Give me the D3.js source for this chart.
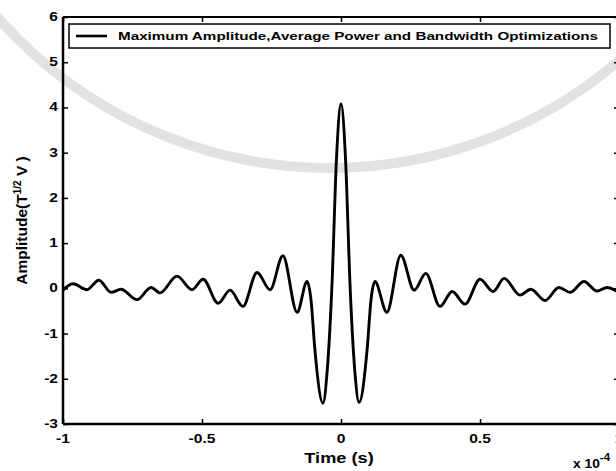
<!DOCTYPE html>
<html>
<head>
<meta charset="utf-8">
<script src="https://cdn.jsdelivr.net/npm/d3@7"></script>
<style>
  body { margin: 0; background: #fff; }
  svg { display: block; font-family: "Liberation Sans", Arial, sans-serif; }
</style>
</head>
<body>
<svg id="chart" width="616" height="471"></svg>
<script>
// time in units of 1e-4 s
const timeVals = [
  -1.000, -0.964, -0.914, -0.871, -0.827, -0.791, -0.734, -0.683, -0.651, -0.590,
  -0.536, -0.496, -0.442, -0.399, -0.353, -0.302, -0.255, -0.209, -0.158, -0.122,
  -0.108, -0.094, -0.065, -0.050, -0.033, -0.016, 0.000, 0.016, 0.033, 0.050,
  0.065, 0.094, 0.108, 0.122, 0.165, 0.215, 0.263, 0.305, 0.356, 0.400,
  0.446, 0.500, 0.547, 0.587, 0.644, 0.683, 0.734, 0.784, 0.824, 0.874,
  0.921, 0.957, 1.000
];
const ampVals = [
  -0.04, 0.10, -0.03, 0.18, -0.09, -0.02, -0.25, 0.02, -0.10, 0.27,
  -0.03, 0.20, -0.33, -0.04, -0.40, 0.35, -0.03, 0.72, -0.53, 0.15,
  -0.25, -1.35, -2.54, -1.85, 0.00, 2.90, 4.08, 2.90, 0.00, -1.85,
  -2.52, -1.35, -0.25, 0.15, -0.53, 0.73, -0.04, 0.33, -0.40, -0.07,
  -0.35, 0.20, -0.07, 0.22, -0.15, -0.02, -0.27, 0.02, -0.09, 0.15,
  -0.06, 0.02, -0.10
];
const xTicks = [-1, -0.5, 0, 0.5, 1];
const xTickLabels = ["-1", "-0.5", "0", "0.5", "1"];
const yTicks = [-3, -2, -1, 0, 1, 2, 3, 4, 5, 6];
const legendLabel = "Maximum Amplitude,Average Power and Bandwidth Optimizations";

const PLOT_LEFT = 63;
const PLOT_RIGHT = 619;
const PLOT_TOP = 17;
const PLOT_BOTTOM = 424;
const TICK_LEN = 5;
const STRETCH = 1.3; // the scan is wider than tall

let svg = d3.select("#chart");

let x = d3.scaleLinear().domain([-1, 1]).range([PLOT_LEFT, PLOT_RIGHT]);
let y = d3.scaleLinear().domain([-3, 6]).range([PLOT_BOTTOM, PLOT_TOP]);

// Faint watermark arc behind the plot
svg.append("circle")
  .attr("cx", 330).attr("cy", -274).attr("r", 442)
  .attr("fill", "none").attr("stroke", "#e2e2e2").attr("stroke-width", 10);

// Frame
let frame = svg.append("g").attr("stroke", "#000").attr("fill", "none");
frame.append("line").attr("x1", PLOT_LEFT).attr("x2", PLOT_RIGHT)
  .attr("y1", PLOT_TOP).attr("y2", PLOT_TOP).attr("stroke-width", 2);
frame.append("line").attr("x1", PLOT_LEFT).attr("x2", PLOT_RIGHT)
  .attr("y1", PLOT_BOTTOM).attr("y2", PLOT_BOTTOM).attr("stroke-width", 2.5);
frame.append("line").attr("x1", PLOT_LEFT).attr("x2", PLOT_LEFT)
  .attr("y1", PLOT_TOP).attr("y2", PLOT_BOTTOM).attr("stroke-width", 2.5);
frame.append("line").attr("x1", PLOT_RIGHT).attr("x2", PLOT_RIGHT)
  .attr("y1", PLOT_TOP).attr("y2", PLOT_BOTTOM).attr("stroke-width", 2);

// Axes with inward ticks
let xAxisBottom = d3.axisTop(x).tickValues(xTicks).tickSize(TICK_LEN).tickFormat("");
let xAxisTop = d3.axisBottom(x).tickValues(xTicks).tickSize(TICK_LEN).tickFormat("");
let yAxisLeft = d3.axisRight(y).tickValues(yTicks).tickSize(TICK_LEN).tickFormat("");
let yAxisRight = d3.axisLeft(y).tickValues(yTicks).tickSize(TICK_LEN).tickFormat("");

[
  [xAxisBottom, `translate(0,${PLOT_BOTTOM})`],
  [xAxisTop, `translate(0,${PLOT_TOP})`],
  [yAxisLeft, `translate(${PLOT_LEFT},0)`],
  [yAxisRight, `translate(${PLOT_RIGHT},0)`]
].forEach(([axis, tr]) => {
  let g = svg.append("g").attr("transform", tr).call(axis);
  g.select(".domain").remove();
  g.selectAll(".tick line").attr("stroke", "#000").attr("stroke-width", 1.5);
});

// Tick labels (stretched horizontally like the scan)
svg.append("g").selectAll("text").data(xTicks).join("text")
  .attr("transform", (d) => `translate(${x(d)},${PLOT_BOTTOM + 19}) scale(${STRETCH},1)`)
  .attr("text-anchor", "middle")
  .attr("font-size", 12).attr("font-weight", "bold")
  .text((d, i) => xTickLabels[i]);

svg.append("g").selectAll("text").data(yTicks).join("text")
  .attr("transform", (d) => `translate(${PLOT_LEFT - 5},${y(d) + 4}) scale(${STRETCH},1)`)
  .attr("text-anchor", "end")
  .attr("font-size", 12).attr("font-weight", "bold")
  .text((d) => `${d}`);

// Axis labels
svg.append("text")
  .attr("transform", `translate(339,463) scale(${STRETCH},1)`)
  .attr("text-anchor", "middle")
  .attr("font-size", 14).attr("font-weight", "bold")
  .text("Time (s)");

let expo = svg.append("text")
  .attr("transform", `translate(573,468) scale(1.15,1)`)
  .attr("font-size", 12).attr("font-weight", "bold");
expo.append("tspan").text("x 10");
expo.append("tspan").attr("dy", -7).attr("font-size", 10).text("-4");

let ylab = svg.append("text")
  .attr("transform", `translate(27,${(PLOT_TOP + PLOT_BOTTOM) / 2}) rotate(-90)`)
  .attr("text-anchor", "middle")
  .attr("font-size", 15.5).attr("font-weight", "bold");
ylab.append("tspan").text("Amplitude(T");
ylab.append("tspan").attr("dy", -6).attr("font-size", 10).text("1/2");
ylab.append("tspan").attr("dy", 6).text(" V )");

// Signal line
let line = d3.line()
  .x((d, i) => x(timeVals[i]))
  .y((d) => y(d))
  .curve(d3.curveMonotoneX);

svg.append("path")
  .datum(ampVals)
  .attr("fill", "none")
  .attr("stroke", "#000")
  .attr("stroke-width", 2.9)
  .attr("stroke-linejoin", "round")
  .attr("d", line);

// Legend
let legend = svg.append("g");
legend.append("rect")
  .attr("x", 69).attr("y", 24).attr("width", 541).attr("height", 24)
  .attr("fill", "#fff").attr("stroke", "#000").attr("stroke-width", 1.5);
legend.append("line")
  .attr("x1", 76).attr("x2", 107).attr("y1", 36).attr("y2", 36)
  .attr("stroke", "#000").attr("stroke-width", 2.6);
legend.append("text")
  .attr("x", 118).attr("y", 40)
  .attr("font-size", 11).attr("font-weight", "bold")
  .attr("textLength", 480).attr("lengthAdjust", "spacingAndGlyphs")
  .text(legendLabel);
</script>
</body>
</html>
